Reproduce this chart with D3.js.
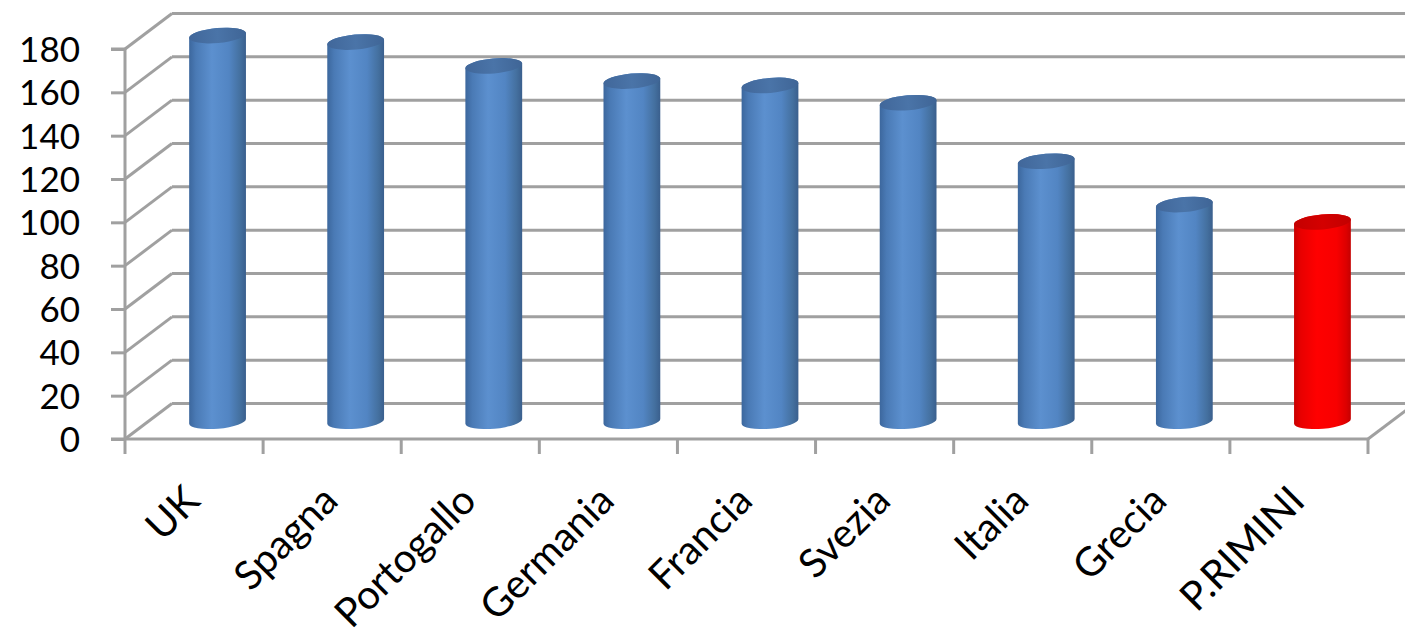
<!DOCTYPE html>
<html><head><meta charset="utf-8">
<script src="https://cdn.jsdelivr.net/npm/d3@7"></script>
<style>html,body{margin:0;padding:0;background:#fff;}svg{display:block;}</style>
</head><body>
<svg id="chart" width="1405" height="636"></svg>
<script>
const categories = ["UK","Spagna","Portogallo","Germania","Francia","Svezia","Italia","Grecia","P.RIMINI"];
const values = [178,175,164,157,155,147,120,100,92];
const highlight = ["P.RIMINI"];
const yTicks = [0,20,40,60,80,100,120,140,160,180];

const svg = d3.select("#chart");
const x0 = 125, x1 = 1368, yBase = 439, yTop = 49;
const dx = 47, dy = -35.5;
const font = "Lato, 'Open Sans', sans-serif";
const gridCol = "#a0a0a0";

const x = d3.scaleBand().domain(categories).range([x0, x1]).padding(0);
const y = d3.scaleLinear().domain([0, 180]).range([yBase, yTop]);

const defs = svg.append("defs");
function grad(id, stops) {
  const g = defs.append("linearGradient").attr("id", id).attr("x1","0%").attr("x2","100%").attr("y1","0%").attr("y2","0%");
  stops.forEach(s => g.append("stop").attr("offset", s[0]).attr("stop-color", s[1]));
}
grad("blueBody", [["0%","#3c679d"],["12%","#4a7ab5"],["40%","#5c90cf"],["70%","#5285c3"],["90%","#44709f"],["100%","#3a5f8d"]]);
grad("blueTop", [["0%","#41679a"],["50%","#4a74a8"],["100%","#3f6596"]]);
grad("redBody", [["0%","#c80000"],["12%","#e80000"],["40%","#ff0000"],["75%","#f80000"],["92%","#dc0000"],["100%","#c40000"]]);
grad("redTop", [["0%","#c40000"],["50%","#d40000"],["100%","#c20000"]]);

const g = svg.append("g");

// back wall gridlines + side wall diagonals
yTicks.forEach(t => {
  const yy = y(t);
  g.append("line").attr("x1", x0).attr("y1", yy).attr("x2", x0 + dx).attr("y2", yy + dy)
    .attr("stroke", gridCol).attr("stroke-width", 3);
  g.append("line").attr("x1", x0 + dx).attr("y1", yy + dy).attr("x2", x1 + dx + 20).attr("y2", yy + dy)
    .attr("stroke", gridCol).attr("stroke-width", 3);
});
// floor right edge
g.append("line").attr("x1", x1).attr("y1", yBase).attr("x2", x1 + dx).attr("y2", yBase + dy)
  .attr("stroke", gridCol).attr("stroke-width", 3);

// y axis
const yAxis = d3.axisLeft(y).tickValues(yTicks).tickSize(14).tickPadding(31);
const ya = g.append("g").attr("transform", `translate(${x0},0)`).call(yAxis);
ya.select(".domain").attr("stroke", gridCol).attr("stroke-width", 3).attr("d", `M-14,${yTop}H0V${yBase}`);
ya.selectAll(".tick line").attr("stroke", gridCol).attr("stroke-width", 3);
ya.selectAll(".tick text").attr("font-family", font).attr("font-size", 35).attr("fill", "#000").attr("dy", "0.36em");

// x axis line and ticks at band boundaries
g.append("line").attr("x1", x0 - 14).attr("y1", yBase).attr("x2", x1).attr("y2", yBase)
  .attr("stroke", gridCol).attr("stroke-width", 3);
const bounds = categories.map(c => x(c)).concat([x1]);
g.selectAll(".xtick").data(bounds).enter().append("line")
  .attr("x1", d => d).attr("x2", d => d).attr("y1", yBase).attr("y2", yBase + 15)
  .attr("stroke", gridCol).attr("stroke-width", 3);

// x labels
g.selectAll(".xlab").data(categories).enter().append("text")
  .attr("transform", d => `translate(${x(d) + x.bandwidth()/2 + 8},${yBase + 64}) rotate(-45)`)
  .attr("text-anchor", "end")
  .attr("font-family", font).attr("font-size", 40).attr("fill", "#000")
  .text(d => d);

// cylinders
const rx = 28.5, ry = 7.5, th = -5; // tilt in degrees
const thr = th * Math.PI / 180;
const cx = d => x(d) + x.bandwidth()/2 + dx/2;
const midY = v => y(v) + dy/2;
const bars = g.selectAll(".bar").data(categories.map((c, i) => ({c, v: values[i]}))).enter().append("g");
bars.append("path")
  .attr("d", d => {
    const c = cx(d.c), yt = midY(d.v), yb = midY(0);
    const ox = rx * Math.cos(thr), oy = rx * Math.sin(thr);
    return `M${c - ox},${yt - oy} L${c - ox},${yb - oy} A${rx},${ry} ${th} 0 0 ${c + ox},${yb + oy} L${c + ox},${yt + oy} A${rx},${ry} ${th} 0 0 ${c - ox},${yt - oy} Z`;
  })
  .attr("fill", d => highlight.includes(d.c) ? "url(#redBody)" : "url(#blueBody)");
bars.append("ellipse")
  .attr("cx", 0).attr("cy", 0).attr("rx", rx).attr("ry", ry)
  .attr("transform", d => `translate(${cx(d.c)},${midY(d.v)}) rotate(${th})`)
  .attr("fill", d => highlight.includes(d.c) ? "url(#redTop)" : "url(#blueTop)");
</script>
</body></html>
